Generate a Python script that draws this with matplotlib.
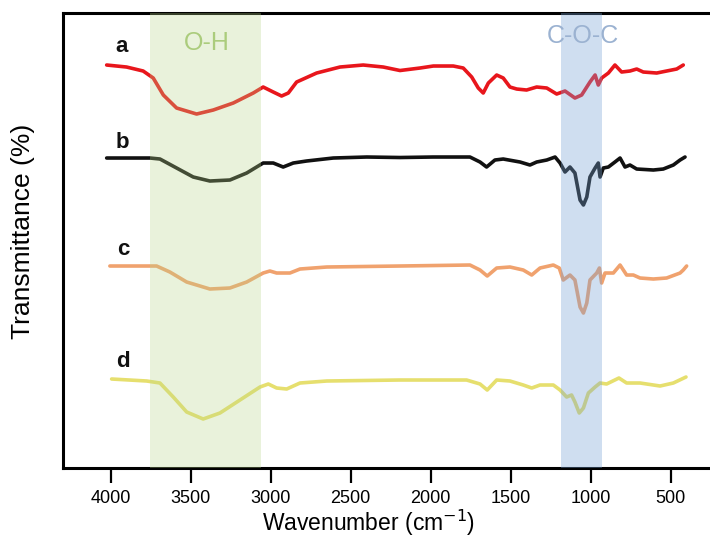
import numpy as np
import matplotlib.pyplot as plt

plt.rcParams["font.family"] = ["Liberation Sans", "DejaVu Sans"]

# FTIR spectra (wavenumber in cm-1, transmittance in arbitrary offset units)
wn_a = [4024, 3900, 3796, 3733, 3670, 3587, 3462, 3358, 3233, 3108, 3046, 2983, 2931, 2889,
        2837, 2712, 2566, 2421, 2296, 2191, 2066, 1983, 1858, 1796, 1743, 1702, 1671, 1639,
        1587, 1546, 1504, 1462, 1400, 1337, 1274, 1212, 1160, 1098, 1056, 1004, 972, 952,
        931, 889, 848, 806, 754, 712, 671, 587, 525, 462, 421]
t_a = [403, 401, 397, 390, 373, 360, 354, 358, 365, 375, 381, 376, 372, 375,
       386, 395, 401, 403, 401, 397.5, 400, 402, 402, 400, 391, 380, 375, 385,
       393, 390, 381, 379, 378, 381, 380, 374, 377, 370, 373, 386, 393, 383,
       390, 395, 403, 396, 397, 399, 396, 395, 397, 399, 403]

wn_b = [4024, 3754, 3691, 3587, 3483, 3379, 3254, 3149, 3046, 2983, 2921, 2858, 2775, 2608,
        2399, 2191, 1983, 1754, 1691, 1650, 1598, 1546, 1441, 1379, 1337, 1274, 1222, 1191,
        1160, 1129, 1098, 1066, 1045, 1024, 1004, 972, 952, 941, 921, 889, 848, 816, 785,
        754, 712, 608, 546, 483, 441, 410]
t_b = [310, 310, 309, 300, 291, 287, 288, 295, 305, 305, 301, 305, 307, 310,
       311, 310.5, 311, 311, 306, 301, 308, 309, 306, 303, 306, 308, 311, 305,
       296, 301, 295, 268, 263, 271, 291, 300, 305, 291, 300, 301, 306, 310, 301,
       303, 299, 298, 299, 303, 308, 311]

wn_c = [4004, 3712, 3629, 3524, 3379, 3254, 3149, 3046, 3004, 2962, 2879, 2816, 2649, 2191,
        1754, 1691, 1646, 1587, 1504, 1421, 1368, 1316, 1233, 1196, 1171, 1129, 1098, 1066,
        1045, 1024, 1004, 962, 945, 931, 910, 858, 816, 775, 733, 691, 608, 525, 441, 421, 400]
t_c = [202, 202, 196, 186, 179, 180, 186, 195, 197, 195, 195, 199, 201, 202,
       203, 198, 192, 200, 201, 198, 193, 200, 203, 200, 188, 193, 188, 161,
       155, 165, 188, 195, 200, 185, 195, 195, 203, 193, 193, 190, 189, 190, 195, 198, 202]

wn_d = [3993, 3774, 3691, 3608, 3524, 3421, 3316, 3191, 3066, 3014, 2962, 2899, 2816, 2649,
        2191, 1775, 1691, 1646, 1587, 1504, 1421, 1368, 1316, 1233, 1191, 1150, 1119, 1098,
        1071, 1045, 1014, 972, 941, 900, 823, 775, 691, 566, 483, 404]
t_d = [89, 87, 85, 71, 56, 49, 55, 68, 81, 84, 80, 79, 85, 87,
       88, 88, 84, 78, 88, 87, 83, 80, 83, 83, 78, 71, 73, 66,
       55, 60, 75, 81, 85, 84, 90, 85, 85, 82, 85, 91]

series = [("a", wn_a, t_a, "#e8161c"),
          ("b", wn_b, t_b, "#111111"),
          ("c", wn_c, t_c, "#f0a26e"),
          ("d", wn_d, t_d, "#e6df6e")]

# label anchor (wavenumber, transmittance) for each curve letter
label_pos = {"a": (3929, 416), "b": (3929, 320), "c": (3922, 213), "d": (3922, 101)}

# highlighted bands
oh_band = (3754, 3060)
coc_band = (1185, 931)


def main():
    fig = plt.figure(figsize=(7.1, 5.38), dpi=100)
    ax = fig.add_axes([0.0887, 0.1301, 0.9113, 0.8457])

    for name, wn, t, color in series:
        ax.plot(wn, t, color=color, lw=2.6, solid_joinstyle="round",
                solid_capstyle="round", zorder=2)
        lx, ly = label_pos[name]
        ax.text(lx, ly, name, fontsize=16, fontweight="bold", color="#111111",
                ha="center", va="baseline", zorder=5)

    # the bands sit on top of the lines, so the lines are tinted inside them
    ax.axvspan(*oh_band, color="#b9d78a", alpha=0.3, lw=0, zorder=3)
    ax.axvspan(*coc_band, color="#76a1d4", alpha=0.35, lw=0, zorder=3)
    ax.text(3400, 425, "O-H", color="#abcc7c", fontsize=18, ha="center",
            va="center", zorder=5)
    ax.text(1048, 432, "C-O-C", color="#9bb2d1", fontsize=18, ha="center",
            va="center", zorder=5)

    ax.set_xlim(4297, 254)
    ax.set_ylim(0, 455)
    ax.set_xticks(list(range(4000, 499, -500)))
    ax.set_yticks([])
    ax.tick_params(axis="x", direction="out", length=11, width=1.6,
                   labelsize=13, pad=5)
    for side in ["left", "bottom", "top"]:
        ax.spines[side].set_linewidth(2.2)
    ax.spines["right"].set_visible(False)

    ax.set_xlabel("Wavenumber (cm$^{-1}$)", fontsize=16.5)
    ax.xaxis.set_label_coords(0.473, -0.088)
    ax.set_ylabel("Transmittance (%)", fontsize=19)
    ax.yaxis.set_label_coords(-0.043, 0.519)

    plt.savefig("out.png", dpi=100)


if __name__ == "__main__":
    main()
